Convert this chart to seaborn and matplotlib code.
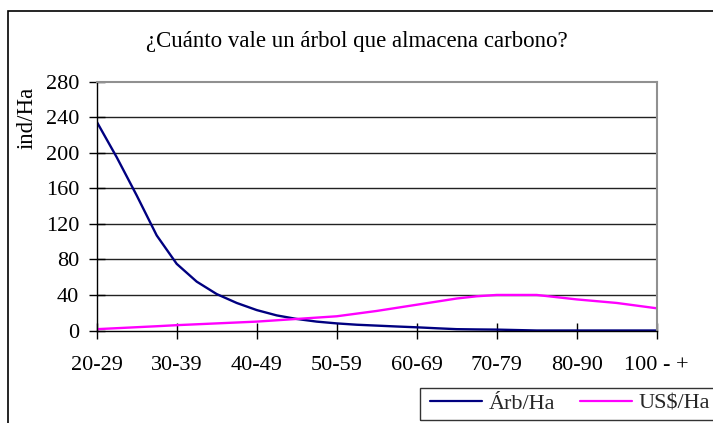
import numpy as np
import pandas as pd
import seaborn as sns
import matplotlib
matplotlib.use("Agg")
import matplotlib.pyplot as plt
from matplotlib.patches import Rectangle
from matplotlib.lines import Line2D

# ---- data ----
categories = ["20-29", "30-39", "40-49", "50-59", "60-69", "70-79", "80-90", "100 - +"]
# sub-class positions (4 steps per labelled class)
x_pos = [0, 0.25, 0.5, 0.75, 1, 1.25, 1.5, 1.75, 2, 2.25, 2.5, 2.75, 3, 3.25, 3.5, 3.75,
         4, 4.25, 4.5, 4.75, 5, 5.25, 5.5, 5.75, 6, 6.25, 6.5, 6.75, 7]
arb_ha = [235, 195, 152, 107, 75, 55, 41, 31, 23, 17, 13, 10, 8, 6.5, 5.5, 4.5,
          3.6, 2.5, 1.5, 1.2, 1.0, 0.5, 0, 0, 0, 0, 0, 0, 0]
usd_ha = [1.5, 2.6, 3.7, 4.8, 6, 7, 8, 9, 10, 11.5, 13, 14.5, 16, 19, 22, 25.5,
          29, 32.5, 36, 38.5, 40, 40, 40, 37.5, 35, 33, 31, 28, 25]
series_names = ["Árb/Ha", "US$/Ha"]
y_ticks = [0, 40, 80, 120, 160, 200, 240, 280]
title = "¿Cuánto vale un árbol que almacena carbono?"
y_label = "ind/Ha"

df = pd.DataFrame({
    "x": x_pos * 2,
    "valor": arb_ha + usd_ha,
    "serie": [series_names[0]] * len(x_pos) + [series_names[1]] * len(x_pos),
})

sns.set_theme(style="white")
plt.rcParams["font.family"] = ["Liberation Serif", "DejaVu Serif"]

W, H = 713, 423
fig = plt.figure(figsize=(W / 100, H / 100), dpi=100)
ax = fig.add_axes([96.7 / W, 1 - 330.5 / H, (656.7 - 96.7) / W, (330.5 - 81.7) / H])

colors = {series_names[0]: "#000080", series_names[1]: "#FF00FF"}
sns.lineplot(data=df, x="x", y="valor", hue="serie", palette=colors, ax=ax,
             linewidth=1.7, legend=False, sort=False, estimator=None)

ax.set_xlim(0, 7)
ax.set_ylim(0, 280)
ax.set_yticks(y_ticks)
ax.set_yticklabels([str(v) for v in y_ticks])
ax.set_xticks(range(len(categories)))
ax.set_xticklabels(categories)
ax.set_xlabel("")
ax.set_ylabel("")
ax.grid(False)
for v in y_ticks[1:-1]:
    ax.axhline(v, color="#222222", linewidth=1.0, zorder=0)

for s in ["top", "right"]:
    ax.spines[s].set_color("#909090")
    ax.spines[s].set_linewidth(1.5)
for s in ["left", "bottom"]:
    ax.spines[s].set_color("black")
    ax.spines[s].set_linewidth(1.0)

ax.tick_params(axis="both", direction="inout", length=11, width=1, color="black",
               labelsize=16, labelcolor="black", bottom=True, left=True)
ax.tick_params(axis="x", pad=13)
ax.tick_params(axis="y", pad=7)

fig.text(357 / W, 1 - 41 / H, title, ha="center", va="center", fontsize=16.5, color="black")
fig.text(27 / W, 1 - 118 / H, y_label, ha="center", va="center", rotation=90,
         fontsize=16.5, color="black")

# outer chart frame (cut by image edges)
fig.patches.append(Rectangle((7.5 / W, -0.01), 1.1, 1 - 11 / H + 0.01, transform=fig.transFigure,
                             fill=False, edgecolor="black", linewidth=1.2))
# legend frame
fig.patches.append(Rectangle((420 / W, 1 - 419.5 / H), 0.5, (419.5 - 387.5) / H,
                             transform=fig.transFigure, fill=False, edgecolor="#333333",
                             linewidth=1.0))

lines = ax.get_lines()
for i, (name, x0) in enumerate(zip(series_names, [430, 580])):
    h = Line2D([], [], color=lines[i].get_color(), linewidth=1.6)
    fig.legend([h], [name], loc="center left", bbox_to_anchor=(x0 / W, 1 - 403.5 / H),
               frameon=False, fontsize=16, handlelength=2.35, handletextpad=0.28,
               borderpad=0, borderaxespad=0)

fig.savefig("out.png", dpi=100)
